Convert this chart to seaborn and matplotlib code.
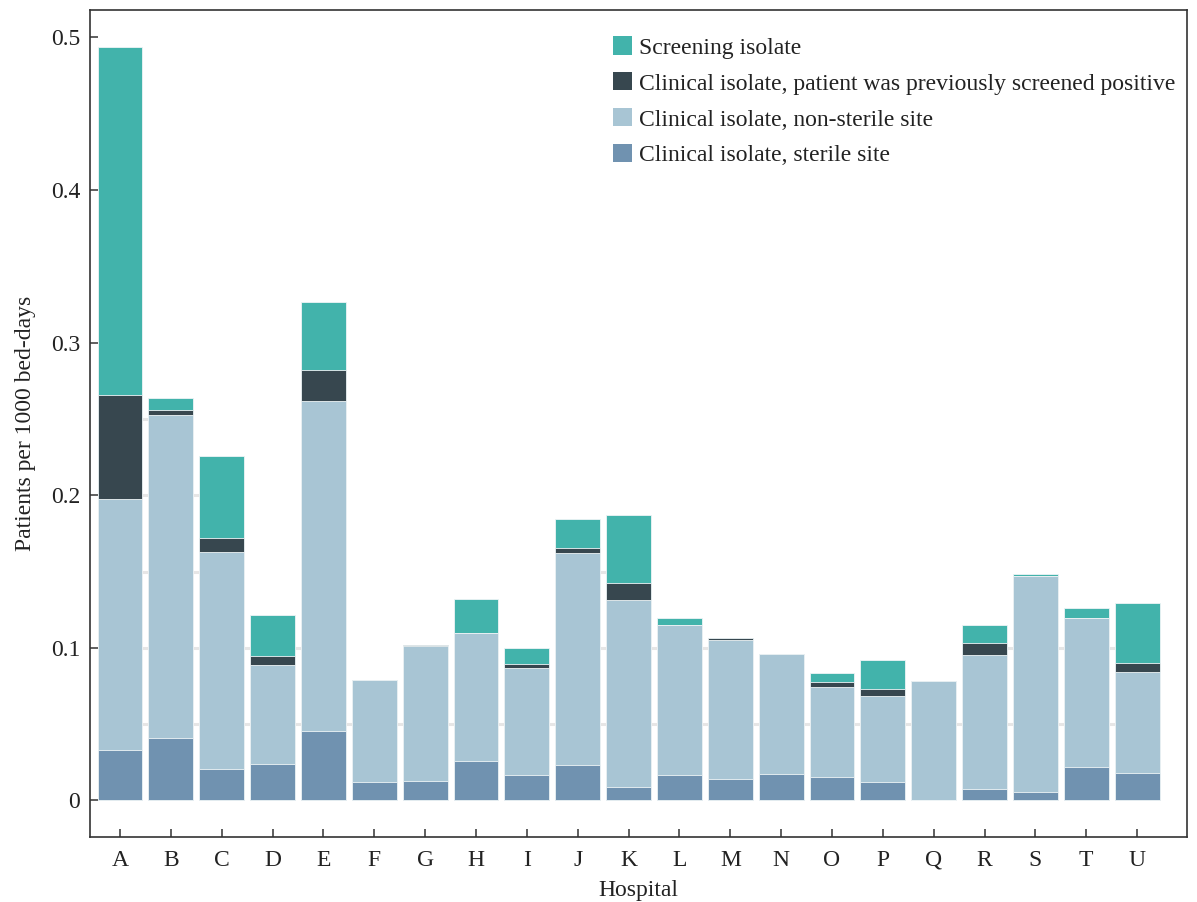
import numpy as np
import pandas as pd
import matplotlib
matplotlib.use("Agg")
import matplotlib.pyplot as plt
from matplotlib.patches import Patch
import seaborn as sns

# Rates per 1000 bed-days, by hospital and isolate category
hospitals = list("ABCDEFGHIJKLMNOPQRSTU")
sterile = [0.0330, 0.0410, 0.0203, 0.0238, 0.0453, 0.0118, 0.0125, 0.0260, 0.0166, 0.0232,
           0.0085, 0.0164, 0.0138, 0.0171, 0.0151, 0.0122, 0.0000, 0.0077, 0.0055, 0.0217, 0.0179]
non_sterile = [0.1647, 0.2114, 0.1426, 0.0646, 0.2163, 0.0669, 0.0885, 0.0836, 0.0702, 0.1391,
               0.1227, 0.0984, 0.0910, 0.0787, 0.0595, 0.0565, 0.0783, 0.0877, 0.1417, 0.0979, 0.0661]
prev_screened = [0.0678, 0.0037, 0.0090, 0.0061, 0.0203, 0.0000, 0.0009, 0.0000, 0.0024, 0.0033,
                 0.0112, 0.0000, 0.0013, 0.0000, 0.0028, 0.0046, 0.0000, 0.0078, 0.0000, 0.0000, 0.0063]
screening = [0.2284, 0.0078, 0.0538, 0.0267, 0.0449, 0.0000, 0.0000, 0.0221, 0.0107, 0.0188,
             0.0444, 0.0048, 0.0000, 0.0000, 0.0064, 0.0186, 0.0000, 0.0118, 0.0011, 0.0064, 0.0392]

series_labels = ["Screening isolate",
                 "Clinical isolate, patient was previously screened positive",
                 "Clinical isolate, non-sterile site",
                 "Clinical isolate, sterile site"]
series_colors = ["#42b3ab", "#37474f", "#a8c5d4", "#7092b0"]

df = pd.DataFrame({
    "hospital": hospitals,
    "sterile": sterile,
    "non_sterile": non_sterile,
    "prev_screened": prev_screened,
    "screening": screening,
})
df["c1"] = df["sterile"]
df["c2"] = df["c1"] + df["non_sterile"]
df["c3"] = df["c2"] + df["prev_screened"]
df["c4"] = df["c3"] + df["screening"]

sns.set_theme(style="white")
plt.rcParams["font.family"] = ["Liberation Serif", "DejaVu Serif"]
plt.rcParams["font.size"] = 17

fig = plt.figure(figsize=(11.97, 9.02), dpi=100)
ax = fig.add_axes([90 / 1197, 1 - 837 / 902, 1097 / 1197, 827 / 902])

bar_w = 0.88

# faint guide lines in the gaps between neighbouring bars
totals = df["c4"].to_numpy()
levels = np.arange(0.05, 0.5001, 0.05)
for i in range(len(hospitals) - 1):
    top = min(totals[i], totals[i + 1])
    for lv in levels:
        if lv < top - 0.002:
            ax.hlines(lv, i + bar_w / 2, i + 1 - bar_w / 2, color="#e6e6e6", lw=2.2, zorder=0)

# stacked bars drawn as overlapping cumulative totals, tallest first
for col, colr in zip(["c4", "c3", "c2", "c1"], series_colors):
    sns.barplot(data=df, x="hospital", y=col, color=colr, saturation=1, width=bar_w,
                errorbar=None, edgecolor="#eef4f6", linewidth=0.6, ax=ax, zorder=2)

ax.set_xlim(-0.59, 20.98)
ax.set_ylim(-0.024, 0.518)
ax.set_yticks([0, 0.1, 0.2, 0.3, 0.4, 0.5])
ax.set_yticklabels(["0", "0.1", "0.2", "0.3", "0.4", "0.5"])
ax.tick_params(axis="both", direction="in", length=6, width=1.1, colors="#333333",
               labelcolor="#222222", labelsize=17, pad=7, bottom=True, left=True)
ax.tick_params(axis="x", pad=9)
for s in ax.spines.values():
    s.set_color("#333333")
    s.set_linewidth(1.2)

ax.set_xlabel("Hospital", fontsize=17, color="#222222", labelpad=7)
ax.set_ylabel("Patients per 1000 bed-days", fontsize=17, color="#222222", labelpad=11)

handles = [Patch(facecolor=c, edgecolor="none") for c in series_colors]
leg = ax.legend(handles, series_labels, loc="upper left", bbox_to_anchor=(0.4765, 0.968),
                frameon=False, fontsize=17, handlelength=0.8, handleheight=0.8,
                handletextpad=0.3, labelspacing=0.58, borderpad=0, borderaxespad=0)
for t in leg.get_texts():
    t.set_color("#222222")

fig.savefig("out.png", dpi=100)
